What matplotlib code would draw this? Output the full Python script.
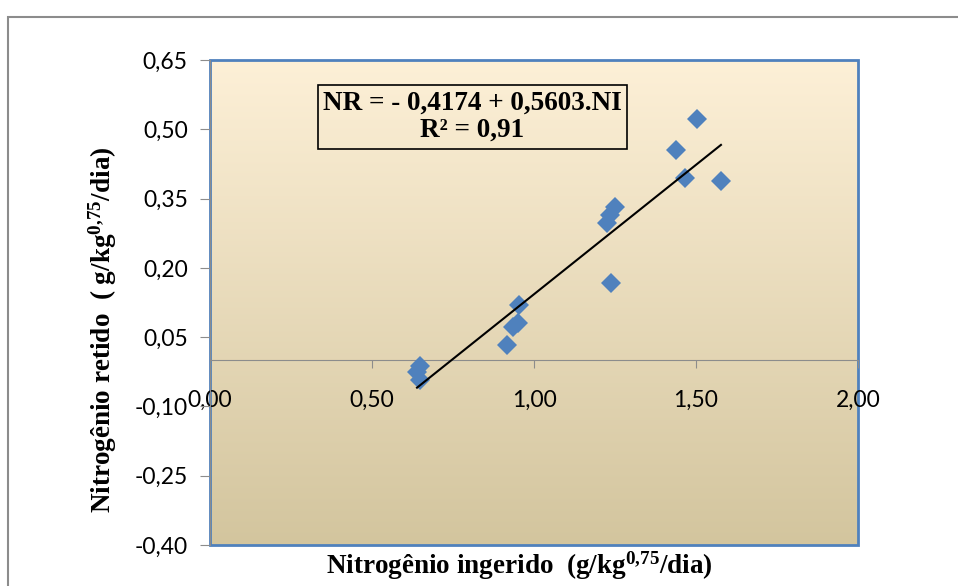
import numpy as np
import matplotlib.pyplot as plt
from matplotlib.patches import Rectangle

plt.rcParams['mathtext.fontset'] = 'custom'
plt.rcParams['mathtext.rm'] = 'Liberation Serif:bold'
plt.rcParams['mathtext.it'] = 'Liberation Serif:bold'
plt.rcParams['mathtext.bf'] = 'Liberation Serif:bold'

# Dados
NI = [0.648, 0.639, 0.648, 0.917, 0.935, 0.951, 0.954, 1.225, 1.235, 1.250,
      1.238, 1.438, 1.466, 1.503, 1.577]
NR = [-0.013, -0.025, -0.043, 0.032, 0.072, 0.080, 0.119, 0.297, 0.315, 0.331,
      0.167, 0.455, 0.394, 0.522, 0.387]
a, b = -0.4174, 0.5603

xticks = [0.0, 0.5, 1.0, 1.5, 2.0]
yticks = [-0.40, -0.25, -0.10, 0.05, 0.20, 0.35, 0.50, 0.65]

fig = plt.figure(figsize=(9.58, 5.86), dpi=100)
ax = fig.add_axes([210/958, 1-545/586, 648/958, 485/586])

# moldura externa
fig.patches.append(Rectangle((8/958, -0.1), 1.2, 1 - 17/586 + 0.1,
                             transform=fig.transFigure, fill=False,
                             edgecolor='#8c8c8c', linewidth=1.5))

# fundo em degradê
top = np.array([253, 240, 215]) / 255
bot = np.array([211, 197, 158]) / 255
t = np.linspace(0, 1, 256)[:, None]
grad = (top[None, :] * (1 - t) + bot[None, :] * t)[:, None, :]
ax.imshow(grad, extent=[0, 2, -0.40, 0.65], aspect='auto', zorder=0)

ax.set_xlim(0, 2)
ax.set_ylim(-0.40, 0.65)

# borda da área de plotagem
ax.add_patch(Rectangle((0, 0), 1, 1, transform=ax.transAxes, fill=False,
                       edgecolor='#4f81bd', linewidth=2, zorder=1, clip_on=False))

ax.plot(NI, NR, 'D', color='#4f81bd', markersize=10, markeredgewidth=0, zorder=3)
xl = np.array([min(NI), max(NI)])
ax.plot(xl, a + b * xl, color='black', linewidth=1.5, zorder=4)

ax.spines['bottom'].set_position(('data', 0))
ax.spines['bottom'].set_color('#8c8c8c')
ax.spines['left'].set_color('#8c8c8c')
ax.spines['left'].set_zorder(5)
ax.spines['top'].set_visible(False)
ax.spines['right'].set_visible(False)

ax.set_xticks(xticks)
ax.set_xticklabels([f'{v:.2f}'.replace('.', ',') for v in xticks])
ax.set_yticks(yticks)
ax.set_yticklabels([f'{v:.2f}'.replace('.', ',') for v in yticks])
ax.tick_params(axis='x', direction='out', length=6, color='#8c8c8c', pad=15,
               labelsize=16.5)
ax.tick_params(axis='y', direction='out', length=7, color='#8c8c8c', pad=9,
               labelsize=16.5)
for lab in ax.get_xticklabels() + ax.get_yticklabels():
    lab.set_fontfamily('Lato')

ax.text(0.405, 0.883, 'NR = - 0,4174 + 0,5603.NI\nR² = 0,91', transform=ax.transAxes,
        ha='center', va='center', fontsize=19.5, fontweight='bold',
        family='Liberation Serif', linespacing=1.15,
        bbox=dict(boxstyle='square,pad=0.2', facecolor='none', edgecolor='black',
                  linewidth=1.2))

fig.text(519/958, 1-566/586, r'Nitrogênio ingerido  (g/kg$^{0{,}75}$/dia)',
         ha='center', va='center', fontsize=19.5, fontweight='bold',
         family='Liberation Serif')
fig.text(103/958, 1-330/586, r'Nitrogênio retido  ( g/kg$^{0{,}75}$/dia)',
         ha='center', va='center', rotation=90, fontsize=19.5, fontweight='bold',
         family='Liberation Serif')

fig.savefig('out.png', dpi=100)
